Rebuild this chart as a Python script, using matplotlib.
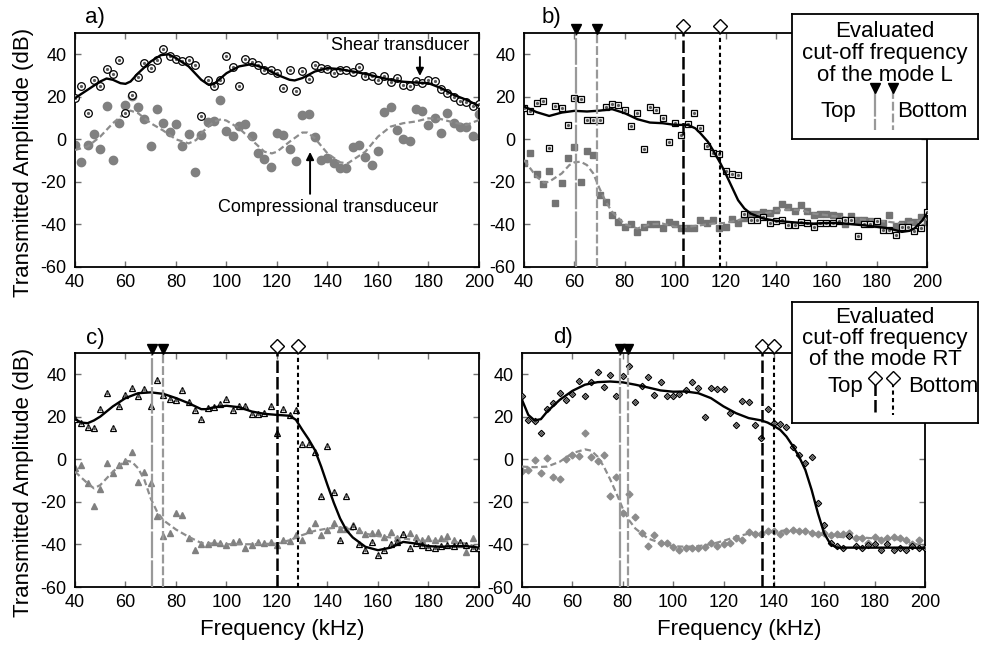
import matplotlib
matplotlib.use("Agg")
import matplotlib.pyplot as plt

plt.rcParams['font.family'] = ['Liberation Sans', 'DejaVu Sans']
plt.rcParams['axes.unicode_minus'] = False

# ======================================================
# DATA
# ======================================================

freq = [40, 42.5, 45, 47.5, 50, 52.5, 55, 57.5, 60, 62.5, 65, 67.5, 70, 72.5, 75, 77.5,
        80, 82.5, 85, 87.5, 90, 92.5, 95, 97.5, 100, 102.5, 105, 107.5, 110, 112.5, 115, 117.5,
        120, 122.5, 125, 127.5, 130, 132.5, 135, 137.5, 140, 142.5, 145, 147.5, 150, 152.5, 155, 157.5,
        160, 162.5, 165, 167.5, 170, 172.5, 175, 177.5, 180, 182.5, 185, 187.5, 190, 192.5, 195, 197.5, 200]

# a) circles
a_shear = [19.4, 25.2, 12.6, 28, 24.9, 33, 30.5, 37.3, 12.6, 21, 29.5, 35.8, 33.7, 37.4, 42.5, 39.3,
           38, 36.8, 37.4, 35, 11, 28, 25.2, 28, 39.3, 34, 25, 37.7, 36.5, 34.9, 32.4, 32.4,
           31.1, 24.1, 32.7, 22.8, 32.1, 28.3, 34.8, 33.7, 33.3, 31.1, 32.4, 32.4, 31.5, 34, 29.9, 29.9,
           27.7, 29.6, 27.1, 28.9, 25.5, 25.2, 27.4, 26.4, 27.7, 27.4, 23.6, 21.7, 20.1, 17.9, 17.6, 15.7, 16.4]
a_comp = [-2.6, -10.8, -2.6, 2.5, -4.4, 15.7, -9.7, 7.6, 16.2, 20.5, 15.4, 9.8, -3, 14.1, 7.6, 3.3,
          7.3, -3, 2.5, -15.2, 2, 8.2, 8.5, 18.6, 4, 1.6, 6.3, 7.3, 1.6, -6.6, -9.4, -13.2,
          3.2, 2, -4.7, -10, 11.3, 12, 1.3, -9.7, -8.8, -11, -13.6, -13.6, -3.7, -2.8, -8.1, -12.2,
          -5.5, 12.9, 15.4, 4.4, 0.3, -0.6, 14.4, 13.5, 6.8, 9.9, 2.9, 12.3, 7.9, 5.7, 5.7, 1.6, 12]
a_shear_fit_x = [40, 45, 50, 52.5, 55, 58, 60, 62, 65, 70, 74, 77, 80, 85, 90, 93, 95, 100, 105, 110,
                 115, 120, 125, 127, 130, 135, 140, 145, 150, 155, 160, 165, 170, 175, 180, 185, 190, 195, 200]
a_shear_fit_y = [19.4, 23.3, 27.2, 28.6, 28, 26.4, 26.1, 27.2, 31.1, 36.6, 39.6, 40, 38.2, 34.3, 28, 25.6, 26, 31.1, 34.3, 35.4,
                 33.5, 30.4, 28, 27.7, 28.8, 31.9, 33.5, 33, 31.9, 30.8, 29.3, 28, 27.1, 26.7, 26.4, 24.1, 20.9, 18.6, 15.7]
a_comp_fit_x = [40, 45, 50, 55, 60, 62, 65, 70, 75, 80, 85, 88, 90, 95, 98, 100, 105, 110, 115, 118,
                120, 125, 130, 132, 135, 140, 145, 148, 150, 155, 160, 165, 170, 175, 180, 185, 190, 195, 200]
a_comp_fit_y = [-5, -3.4, 1.3, 7.6, 12.6, 13.5, 12.3, 7.6, 4.1, 0, -1.9, -0.3, 2.9, 8.4, 9.5, 8.8, 5.2, -0.3, -5.8, -6.6,
                -5.8, -1.1, 3.2, 3.2, 0.5, -6.6, -10.8, -11.3, -9.7, -5.8, 1.3, 6, 7.6, 8.4, 9.9, 9.5, 7.9, 6.8, 9.1]

# b) squares
b_shear = [14.6, 13.4, 17, 17.8, -4.2, 15.9, 14.6, 6.8, 19.4, 18.9, 9.1, 9.1, 9.1, 15.4, 16.5, 16,
           13.9, 6.3, 12.3, -4.7, 15.1, 13.9, 10.2, -1.1, 7.9, 2.2, 7.3, 12.3, 5.5, -3, -6.6, -7,
           -14.9, -16.3, -16.8, -35.3, -38, -38, -36.5, -39.3, -38.5, -38, -40.4, -40.4, -38.8, -39.3, -41.1, -39.3,
           -39.3, -39.3, -38.3, -37.7, -38, -45.5, -39.6, -39.6, -38.3, -42.4, -42.4, -44.8, -41.1, -41.1, -43, -41.6, -34.1]
b_comp = [-11, -6.3, -16.3, -21, -14.7, -29.8, -20.4, -8.8, -3.7, -19.9, -5.5, -7.4, -26.2, -29.4, -35.6, -38.8,
          -41.1, -39.6, -43.5, -41.1, -39.6, -39.9, -41.9, -38.8, -39.9, -41.9, -41.5, -41.9, -38, -39.3, -38, -41.9,
          -41.1, -37.5, -39.3, -37.2, -34.9, -34.9, -34.2, -34.5, -33.3, -30.5, -32, -33.6, -30.9, -33.6, -35.6, -35.2,
          -34.9, -35.6, -36.1, -39.9, -36.1, -38, -38, -38.3, -39.9, -39.3, -35.6, -40.8, -39.9, -38.3, -38.8, -36.7, -38.8]
b_shear_fit_x = [40, 45, 50, 55, 60, 65, 70, 75, 80, 85, 90, 95, 100, 105, 108, 110, 113, 115, 118, 120,
                 122.5, 125, 127.5, 130, 135, 140, 145, 150, 155, 160, 165, 170, 175, 180, 185, 190, 193, 195, 198, 200]
b_shear_fit_y = [15.4, 12.8, 11, 12.6, 13.4, 13.1, 13.5, 14.2, 12.3, 9.5, 7.9, 7.6, 6.8, 6.8, 5.2, 2.9, -1.1, -5, -11.3, -16,
                 -22.3, -28.6, -32.5, -34.9, -37.2, -38.3, -38.8, -39.3, -39.6, -39.3, -39.3, -39.9, -40.4, -41.1, -41.9, -43.5, -43, -41.9, -38.3, -34.9]
b_comp_fit_x = [40, 45, 48, 50, 55, 58, 60, 62.5, 65, 67.5, 70, 72.5, 75, 80, 85, 90, 95, 100, 105, 110,
                115, 120, 125, 130, 135, 140, 145, 150, 155, 160, 165, 170, 175, 180, 185, 190, 195, 200]
b_comp_fit_y = [-9.7, -17.6, -20.4, -19.9, -16, -12.1, -10.8, -10.5, -12.1, -16, -23.1, -29.4, -34.1, -39.9, -41.9, -39.9, -39.6, -41.1, -41.1, -40.4,
                -39.6, -39.3, -38, -36.1, -34.9, -33.6, -33, -33.3, -34.9, -35.6, -36.4, -37.2, -37.7, -38.3, -38.8, -39.6, -38.8, -37.7]

# c) triangles
c_shear = [18.9, 17.3, 15.4, 14.6, 23.6, 31.1, 14.6, 25.2, 30.2, 33.5, 29.9, 33, 25.2, 37.4, 30.4, 28.3,
           28, 32.7, 27.2, 23, 19, 24.1, 24.5, 26, 28.6, 23.3, 24.9, 25.2, 21.4, 21.4, 22, 25.2,
           12.6, 23.6, 20.9, 23.3, 7.3, 7.3, 3.6, -17.1, 6.3, -15.2, -38, -17.3, -31.4, -39.6, -42.7, -38.8,
           -45.1, -42.4, -39.9, -38.8, -35.3, -41.9, -39.3, -40.4, -41.1, -41.5, -40.8, -40.4, -40.8, -38.8, -40.4, -41.5, -41.5]
c_comp = [-4.2, -2.6, -11.3, -22, -14.1, -1.9, -6.6, -2.6, -0.6, 3.6, -10.5, -5.8, -11, -26.7, -36.1, -34.5,
          -25.1, -26.2, -37.2, -42.7, -39.9, -39.9, -38.8, -39.3, -40.4, -38.8, -38.3, -41.5, -40.4, -38.8, -39.3, -38.8,
          -40.4, -38, -38.3, -35.6, -38, -33, -29.8, -35.6, -33.3, -30.1, -32.5, -32.5, -30.9, -33.3, -34.9, -34.5,
          -34.1, -36.4, -34.1, -37.2, -34.9, -34.5, -36.7, -37.7, -37.2, -37.7, -37.2, -36.1, -37.7, -39.6, -43.5, -37.2, -41.5]
c_shear_fit_x = [40, 42.5, 45, 47.5, 50, 55, 60, 65, 70, 75, 80, 85, 90, 92, 95, 100, 105, 110, 115, 120,
                 125, 127.5, 130, 132.5, 135, 137.5, 140, 142.5, 145, 147.5, 150, 155, 160, 165, 170, 175, 180, 185, 190, 195, 200]
c_shear_fit_y = [18.9, 17.3, 17, 18.3, 20.1, 24.9, 28.8, 31.1, 31.5, 30.8, 28.8, 26.4, 23.6, 23.6, 24.5, 25.2, 24.5, 22.5, 21.4, 20.9,
                 20.5, 18.6, 13.9, 9.5, 4.4, -3.4, -12.1, -20.4, -27.8, -33.3, -36.7, -41.1, -42.7, -41.5, -38.8, -39.6, -40.8, -41.1, -40.8, -40.8, -41.5]
c_comp_fit_x = [40, 45, 47.5, 50, 55, 60, 62.5, 65, 67.5, 70, 72.5, 75, 80, 85, 90, 95, 100, 110, 120, 125,
                130, 135, 140, 145, 150, 155, 160, 165, 170, 175, 180, 185, 190, 195, 200]
c_comp_fit_y = [-5.8, -11.3, -13.6, -12.1, -5.8, -0.6, -1.1, -4.2, -9.7, -18.4, -24.6, -28.6, -33, -36.4, -39.3, -39.6, -39.9, -39.9, -39.6, -38,
                -35.6, -33.6, -32.5, -32, -33, -34.9, -36.1, -36.7, -37.2, -38, -38.3, -38.3, -38.8, -39.6, -41.5]

# d) diamonds
d_shear = [29.6, 18.6, 17.8, 12.6, 23.6, 26.7, 31.1, 27.7, 30.8, 37, 29.6, 36.2, 40.9, 33.8, 39.6, 29.9,
           39.3, 43.7, 26.9, 34.3, 38.5, 30.4, 36.2, 29.6, 29.9, 30.8, 32.4, 36.2, 33.5, 20.1, 33.5, 33,
           33, 21.7, 16.1, 27.4, 27.1, 16.2, 10.1, 23.6, 17, 16.7, 15.4, 5.7, 2.1, -1.5, 1, -20.4,
           -30.9, -39.3, -40.7, -41.6, -36.1, -40.8, -41.5, -40.4, -39.9, -42.4, -39.9, -42.7, -41.9, -42.4, -40.8, -41.9, -41.5]
d_comp = [-5.3, -5, -0.3, -6.6, 0.5, -8.5, -9.1, 0, 2.1, 1.6, 12.6, 1, -0.9, 2.2, -17.3, -8.1,
          -25.1, -16.5, -27, -34.5, -40.8, -35.6, -39.3, -39.3, -41.1, -42.4, -41.6, -41.5, -41.5, -41.1, -39.3, -40.8,
          -39.9, -39.3, -37.2, -38, -34.2, -35.2, -35.2, -33.6, -33.6, -35.2, -33.6, -33, -33.6, -33.6, -34.5, -35.2,
          -34.5, -35.6, -34.9, -35.2, -34.5, -37.2, -37.2, -39.3, -36.7, -37.7, -37.2, -36.7, -37.2, -38, -39.9, -37.7, -41.9]
d_shear_fit_x = [40, 42.5, 45, 47.5, 50, 55, 60, 65, 70, 75, 80, 85, 90, 95, 100, 105, 110, 115, 120, 125,
                 130, 135, 137.5, 140, 142.5, 145, 147.5, 150, 152.5, 155, 157.5, 160, 162.5, 165, 170, 180, 190, 200]
d_shear_fit_y = [28, 20.9, 18.3, 18.9, 22.5, 28, 32.2, 35.1, 36.3, 36.6, 36.2, 35.1, 33.8, 32.4, 31.8, 31.9, 31.1, 28.8, 24.9, 21.7,
                 19.4, 18.3, 17.3, 15.7, 13.9, 10.7, 6.3, 1.3, -5, -14.4, -25.4, -34.9, -39.9, -41.5, -41.5, -41.5, -41.5, -41.6]
d_comp_fit_x = [40, 45, 50, 55, 60, 65, 67.5, 70, 72.5, 75, 77.5, 80, 82.5, 85, 90, 95, 100, 105, 110, 115,
                120, 125, 130, 135, 140, 145, 150, 155, 160, 165, 170, 175, 180, 185, 190, 195, 200]
d_comp_fit_y = [-3.4, -3.7, -3.4, -1.1, 2.9, 4.7, 4.1, 1.3, -3.4, -9.4, -16, -23.1, -28.6, -32.5, -37.2, -39.3, -40.8, -41.1, -40.8, -39.9,
                -38.3, -36.4, -34.9, -34.5, -34.1, -33.3, -33.6, -34.5, -35.6, -36.4, -36.7, -36.7, -37.2, -37.2, -37.7, -39.3, -41.1]

# evaluated cut-off frequencies (kHz): [L top, L bottom, RT top, RT bottom]
b_cutoff = [60.5, 68.8, 103.2, 117.8]
c_cutoff = [70.4, 75, 119.9, 128.2]
d_cutoff = [79, 82, 135.2, 140]

# ======================================================
# STYLES
# ======================================================

GRAY_LINE = '0.6'
L_TOP = dict(color=GRAY_LINE, lw=1.6, dashes=(12, 1))
L_BOT = dict(color=GRAY_LINE, lw=1.6, dashes=(4, 1.3))
RT_TOP = dict(color='black', lw=1.8, dashes=(5, 1.6))
RT_BOT = dict(color='black', lw=1.5, dashes=(2, 1.6))


def setup_axes(ax):
    ax.set_xlim(40, 200)
    ax.set_ylim(-60, 50)
    ax.set_xticks(range(40, 201, 20))
    ax.set_yticks(range(-60, 41, 20))
    ax.tick_params(direction='in', length=4, width=1, color='0.45',
                   top=True, right=True, labelsize=13)
    ax.tick_params(axis='y', pad=6)
    ax.tick_params(axis='x', pad=5)
    for s in ax.spines.values():
        s.set_linewidth(1.3)


def draw_data(ax, shear, comp, sfx, sfy, cfx, cfy, marker, ms_s, ms_c, ccol):
    ax.plot(freq, comp, ls='none', marker=marker, ms=ms_c, color=ccol, mec=ccol, zorder=2)
    ax.plot(cfx, cfy, color='0.55', lw=1.6, dashes=(2.8, 1.5), zorder=3)
    ax.plot(freq, shear, ls='none', marker=marker, ms=ms_s, mfc='white', mec='black', mew=0.9, zorder=4)
    ax.plot(freq, shear, ls='none', marker='o', ms=1.3, color='0.35', zorder=5)
    ax.plot(sfx, sfy, color='black', lw=1.7, zorder=6)


def draw_cutoffs(ax, cut):
    for xv, st in zip(cut, [L_TOP, L_BOT, RT_TOP, RT_BOT]):
        ax.plot([xv, xv], [-60, 50], zorder=7, **st)
    ax.plot(cut[:2], [52, 52], ls='none', marker='v', ms=7, color='black', clip_on=False, zorder=8)
    ax.plot(cut[2:], [53.2, 53.2], ls='none', marker='D', ms=7.5, mfc='white', mec='black',
            mew=1, clip_on=False, zorder=8)


# ======================================================
# FIGURE
# ======================================================

fig = plt.figure(figsize=(9.81, 6.46), dpi=100)

ax_a = fig.add_axes([0.07645, 0.58669, 0.41182, 0.36223])
ax_b = fig.add_axes([0.53415, 0.58669, 0.41081, 0.36223])
ax_c = fig.add_axes([0.07645, 0.09133, 0.41182, 0.36223])
ax_d = fig.add_axes([0.53211, 0.09133, 0.41081, 0.36223])

for ax in [ax_a, ax_b, ax_c, ax_d]:
    setup_axes(ax)

draw_data(ax_a, a_shear, a_comp, a_shear_fit_x, a_shear_fit_y, a_comp_fit_x, a_comp_fit_y, 'o', 5.5, 6, '0.5')
draw_data(ax_b, b_shear, b_comp, b_shear_fit_x, b_shear_fit_y, b_comp_fit_x, b_comp_fit_y, 's', 4.2, 4.5, '0.45')
draw_data(ax_c, c_shear, c_comp, c_shear_fit_x, c_shear_fit_y, c_comp_fit_x, c_comp_fit_y, '^', 4.8, 5, '0.5')
draw_data(ax_d, d_shear, d_comp, d_shear_fit_x, d_shear_fit_y, d_comp_fit_x, d_comp_fit_y, 'D', 3.2, 3.5, '0.55')

draw_cutoffs(ax_b, b_cutoff)
draw_cutoffs(ax_c, c_cutoff)
draw_cutoffs(ax_d, d_cutoff)

# annotations in a)
ax_a.text(168.8, 43.9, "Shear transducer", ha='center', va='center', fontsize=13)
ax_a.annotate('', xy=(176.6, 29.8), xytext=(176.6, 38.7),
              arrowprops=dict(arrowstyle='-|>', color='black', lw=1.4, mutation_scale=11,
                              shrinkA=0, shrinkB=0))
ax_a.text(140.4, -32.2, "Compressional transduceur", ha='center', va='center', fontsize=13)
ax_a.annotate('', xy=(133.1, -5.9), xytext=(133.1, -25.6),
              arrowprops=dict(arrowstyle='-|>', color='black', lw=1.4, mutation_scale=11,
                              shrinkA=0, shrinkB=0))

# panel letters and axis titles
for lbl, x, y in [("a)", 95, 18), ("b)", 551, 18), ("c)", 95, 338), ("d)", 563, 337)]:
    fig.text(x / 981, 1 - y / 646, lbl, ha='center', va='center', fontsize=16)

for yc in [162, 482]:
    fig.text(24 / 981, 1 - yc / 646, "Transmitted Amplitude (dB)", rotation=90,
             ha='center', va='center', fontsize=16)
for xc in [282, 739]:
    fig.text(xc / 981, 1 - 629 / 646, "Frequency (kHz)", ha='center', va='center', fontsize=16)


# legend boxes
def legend_box(rect, mode, marker_kw, styles, ybase, ymark, yline, xtop, xbot):
    lg = fig.add_axes(rect)
    lg.set_xlim(0, 1)
    lg.set_ylim(0, 1)
    lg.set_xticks([])
    lg.set_yticks([])
    lg.set_facecolor('white')
    for s in lg.spines.values():
        s.set_linewidth(1.3)
    lines = ["Evaluated", "cut-off frequency", "of the mode " + mode]
    for txt, yb in zip(lines, ybase):
        lg.text(0.5, yb, txt, ha='center', va='baseline', fontsize=16)
    lg.text(xtop, ybase[3], "Top", ha='center', va='baseline', fontsize=16)
    lg.text(xbot, ybase[3], "Bottom", ha='center', va='baseline', fontsize=16)
    for xm, st in zip([0.446, 0.543], styles):
        lg.plot([xm, xm], yline, **st)
        lg.plot([xm], [ymark], ls='none', **marker_kw)
    return lg


legend_box([0.8073, 0.7848, 0.1896, 0.1935], "L",
           dict(marker='v', ms=7, color='black'), [L_TOP, L_BOT],
           [0.816, 0.64, 0.464, 0.176], 0.408, [0.39, 0.07], 0.247, 0.753)
legend_box([0.8073, 0.3452, 0.1896, 0.1873], "RT",
           dict(marker='D', ms=7.5, mfc='white', mec='black', mew=1), [RT_TOP, RT_BOT],
           [0.826, 0.653, 0.479, 0.256], 0.372, [0.33, 0.066], 0.285, 0.812)

fig.savefig("out.png", dpi=100)
